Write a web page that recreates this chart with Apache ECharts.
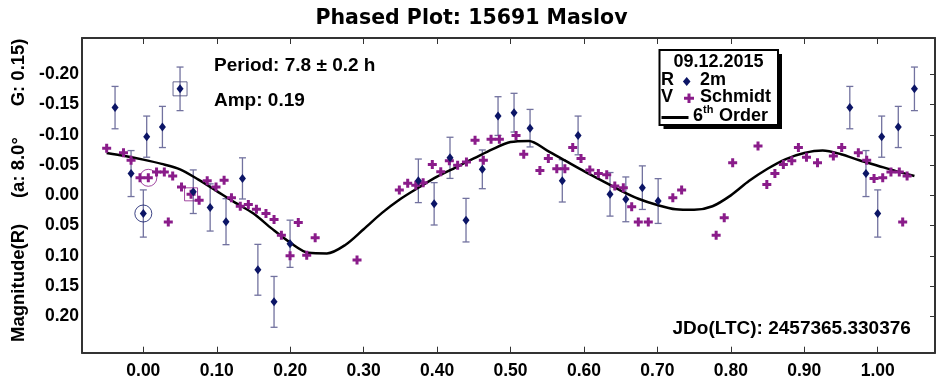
<!DOCTYPE html>
<html><head><meta charset="utf-8">
<script src="https://cdn.jsdelivr.net/npm/echarts@6/dist/echarts.min.js"></script>
<style>html,body{margin:0;padding:0;background:#fff}#c{width:936px;height:383px}</style>
</head><body><div id="c"></div>
<script>
// ---- tick labels ----
const xTicks = [0.00, 0.10, 0.20, 0.30, 0.40, 0.50, 0.60, 0.70, 0.80, 0.90, 1.00];
const yTicks = [-0.20, -0.15, -0.10, -0.05, 0.00, 0.05, 0.10, 0.15, 0.20];

// ---- R filter (2m): phase, magnitude, error ----
const rPhase = [-0.0385, -0.0167, 0.000, 0.0046, 0.026, 0.050, 0.068, 0.091, 0.1126, 0.135, 0.156, 0.178, 0.1998,
  0.3745, 0.396, 0.4176, 0.4394, 0.4616, 0.483, 0.5048, 0.5266, 0.5705, 0.592, 0.6355, 0.657, 0.6795, 0.701,
  0.962, 0.984, 1.000, 1.0054, 1.028, 1.050];
const rMag = [-0.145, -0.036, 0.030, -0.097, -0.113, -0.176, -0.006, 0.020, 0.0435, -0.028, 0.123, 0.176, 0.080,
  -0.024, 0.014, -0.062, 0.041, -0.043, -0.131, -0.1366, -0.111, -0.024, -0.099, -0.0017, 0.0066, -0.0127, 0.0094,
  -0.145, -0.036, 0.030, -0.097, -0.113, -0.176];
const rErr = [0.035, 0.038, 0.039, 0.034, 0.034, 0.036, 0.036, 0.039, 0.038, 0.034, 0.042, 0.042, 0.039,
  0.036, 0.035, 0.034, 0.036, 0.032, 0.032, 0.032, 0.031, 0.035, 0.032, 0.036, 0.037, 0.036, 0.037,
  0.035, 0.038, 0.039, 0.034, 0.034, 0.036];

// ---- V filter (Schmidt): phase, magnitude ----
const vPhase = [-0.0499, -0.027, -0.0167, -0.0045, 0.0068, 0.018, 0.0286, 0.034, 0.040, 0.052, 0.065, 0.076, 0.087,
  0.099, 0.110, 0.120, 0.132, 0.143, 0.154, 0.167, 0.178, 0.188, 0.1998, 0.211, 0.2225, 0.234, 0.291,
  0.3486, 0.360, 0.371, 0.381, 0.3935, 0.405, 0.4167, 0.428, 0.440, 0.4517, 0.463, 0.4735, 0.4848, 0.5075,
  0.518, 0.540, 0.5515, 0.563, 0.574, 0.5847, 0.596, 0.608, 0.6196, 0.631, 0.642, 0.6536, 0.665, 0.674,
  0.6876, 0.721, 0.733, 0.780, 0.791, 0.8025, 0.837, 0.849, 0.860, 0.8715, 0.883, 0.892, 0.903, 0.918,
  0.9396, 0.951, 0.9736, 0.985, 0.995, 1.0068, 1.018, 1.0294, 1.034, 1.040];
const vMag = [-0.078, -0.0705, -0.058, -0.029, -0.029, -0.0386, -0.0386, 0.044, -0.032, -0.0137, -0.0017, 0.008, -0.024,
  -0.014, -0.025, 0.004, 0.018, 0.015, 0.023, 0.030, 0.040, 0.066, 0.100, 0.045, 0.099, 0.070, 0.107,
  -0.009, -0.020, -0.0165, -0.021, -0.051, -0.039, -0.057, -0.0496, -0.055, -0.091, -0.058, -0.0926, -0.0926, -0.099,
  -0.068, -0.041, -0.061, -0.044, -0.044, -0.079, -0.061, -0.042, -0.036, -0.034, -0.0154, -0.0127, 0.019, 0.044,
  0.044, 0.004, -0.009, 0.066, 0.037, -0.054, -0.0815, -0.018, -0.036, -0.051, -0.057, -0.079, -0.063, -0.054,
  -0.065, -0.079, -0.0705, -0.058, -0.028, -0.029, -0.0386, -0.0386, 0.044, -0.032];

// ---- 6th order fit ----
const fitPhase = [-0.050, -0.025, 0.000, 0.025, 0.050, 0.075, 0.100, 0.125, 0.150, 0.175, 0.200, 0.225, 0.250,
  0.275, 0.300, 0.325, 0.350, 0.375, 0.400, 0.425, 0.450, 0.475, 0.500, 0.525, 0.550, 0.575, 0.600, 0.625,
  0.650, 0.675, 0.700, 0.725, 0.750, 0.775, 0.800, 0.825, 0.850, 0.875, 0.900, 0.925, 0.950, 0.975, 1.000,
  1.025, 1.050];
const fitMag = [-0.070, -0.065, -0.059, -0.052, -0.043, -0.026, -0.007, 0.012, 0.030, 0.055, 0.078, 0.095, 0.096,
  0.082, 0.056, 0.029, 0.006, -0.013, -0.031, -0.046, -0.061, -0.076, -0.088, -0.090, -0.074, -0.057, -0.040, -0.024,
  -0.008, 0.006, 0.016, 0.023, 0.024, 0.018, 0.000, -0.024, -0.044, -0.060, -0.070, -0.074, -0.068, -0.058, -0.049,
  -0.040, -0.032];

// ---- highlighted comparison points ----
const rCircled = [0.000, 0.030];
const vCircled = [0.0068, -0.029];
const rBoxed = [0.050, -0.176];
const vBoxed = [0.065, -0.0017];

const NAVY = '#0c1566', PURPLE = '#8a1c8a', ERR = '#72729f', AX = '#333';
const FONT = "'Liberation Sans', Arial, sans-serif";

const rData = rPhase.map((p, i) => [p, rMag[i], rErr[i]]);
const vData = vPhase.map((p, i) => [p, vMag[i]]);
const fitData = fitPhase.map((p, i) => [p, fitMag[i]]);

const XMIN = -0.0835, XMAX = 1.078, YMIN = -0.26, YMAX = 0.26;
const CROSS = 'path://M3,0H6V3H9V6H6V9H3V6H0V3H3Z';

const chart = echarts.init(document.getElementById('c'), null, {renderer: 'canvas'});
chart.setOption({
  animation: false,
  backgroundColor: '#fff',
  grid: {left: 82, right: 1, top: 38, bottom: 30.3},
  xAxis: [{
    type: 'value', min: XMIN, max: XMAX, position: 'bottom',
    axisLine: {show: true, onZero: false, lineStyle: {color: AX, width: 2}},
    axisTick: {show: true, inside: true, length: 6, customValues: xTicks, lineStyle: {color: AX, width: 1}},
    axisLabel: {customValues: xTicks, formatter: v => v.toFixed(2), color: '#000', fontFamily: FONT,
      fontWeight: 'bold', fontSize: 17.5, margin: 9},
    splitLine: {show: false}
  }, {
    type: 'value', min: XMIN, max: XMAX, position: 'top',
    axisLine: {show: true, onZero: false, lineStyle: {color: AX, width: 2}},
    axisTick: {show: true, inside: true, length: 6, customValues: xTicks, lineStyle: {color: AX, width: 1}},
    axisLabel: {show: false}, splitLine: {show: false}
  }],
  yAxis: [{
    type: 'value', min: YMIN, max: YMAX, inverse: true, position: 'left',
    name: '  Magnitude(R)     (a: 8.0°      G: 0.15)', nameLocation: 'middle', nameGap: 50,
    nameTextStyle: {color: '#000', fontFamily: FONT, fontWeight: 'bold', fontSize: 18.5},
    axisLine: {show: true, onZero: false, lineStyle: {color: AX, width: 2}},
    axisTick: {show: false},
    axisLabel: {customValues: yTicks, formatter: v => v.toFixed(2), color: '#000', fontFamily: FONT,
      fontWeight: 'bold', fontSize: 17.5, margin: 3},
    splitLine: {show: false}
  }, {
    type: 'value', min: YMIN, max: YMAX, inverse: true, position: 'right',
    axisLine: {show: true, onZero: false, lineStyle: {color: AX, width: 2}},
    axisTick: {show: true, inside: true, length: 5, customValues: yTicks, lineStyle: {color: AX, width: 1}},
    axisLabel: {show: false}, splitLine: {show: false}
  }],
  series: [
    {
      type: 'custom', name: 'err', data: rData, z: 1,
      renderItem: function (params, api) {
        const x = api.value(0), y = api.value(1), e = api.value(2);
        const a = api.coord([x, y - e]), b = api.coord([x, y + e]);
        const w = 3.5, st = {stroke: ERR, lineWidth: 1.3};
        return {type: 'group', children: [
          {type: 'line', shape: {x1: a[0], y1: a[1], x2: b[0], y2: b[1]}, style: st},
          {type: 'line', shape: {x1: a[0] - w, y1: a[1], x2: a[0] + w, y2: a[1]}, style: st},
          {type: 'line', shape: {x1: b[0] - w, y1: b[1], x2: b[0] + w, y2: b[1]}, style: st}
        ]};
      }
    },
    {
      type: 'line', name: '6th Order', data: fitData, smooth: 0.3, showSymbol: false, z: 2,
      lineStyle: {color: '#000', width: 2.5}
    },
    {
      type: 'scatter', name: 'Schmidt', data: vData, symbol: CROSS, symbolSize: 9, z: 3,
      itemStyle: {color: PURPLE, opacity: 1}
    },
    {
      type: 'scatter', name: '2m', data: rData.map(d => [d[0], d[1]]), symbol: 'diamond', symbolSize: [7, 9], z: 4,
      itemStyle: {color: NAVY, opacity: 1}
    },
    {
      type: 'scatter', data: [rCircled], symbol: 'circle', symbolSize: 17, z: 5,
      itemStyle: {color: 'transparent', borderColor: NAVY, borderWidth: 1}
    },
    {
      type: 'scatter', data: [vCircled], symbol: 'circle', symbolSize: 17, z: 5,
      itemStyle: {color: 'transparent', borderColor: PURPLE, borderWidth: 1}
    },
    {
      type: 'scatter', data: [rBoxed], symbol: 'rect', symbolSize: 14, z: 5,
      itemStyle: {color: 'transparent', borderColor: '#444477', borderWidth: 1}
    },
    {
      type: 'scatter', data: [vBoxed], symbol: 'rect', symbolSize: 13, z: 5,
      itemStyle: {color: 'transparent', borderColor: PURPLE, borderWidth: 1}
    }
  ],
  graphic: [
    {type: 'text', x: 471.5, y: 18.5, style: {text: 'Phased Plot: 15691 Maslov', fill: '#000',
      font: "bold 20.5px 'DejaVu Sans', sans-serif", align: 'center', verticalAlign: 'middle'}},
    {type: 'text', x: 214, y: 66, style: {text: 'Period: 7.8 ± 0.2 h', fill: '#000',
      font: 'bold 19px ' + FONT, align: 'left', verticalAlign: 'middle'}},
    {type: 'text', x: 214, y: 101, style: {text: 'Amp: 0.19', fill: '#000',
      font: 'bold 19px ' + FONT, align: 'left', verticalAlign: 'middle'}},
    {type: 'text', x: 672.5, y: 328.5, style: {text: 'JDo(LTC): 2457365.330376', fill: '#000',
      font: 'bold 19px ' + FONT, align: 'left', verticalAlign: 'middle'}},
    // legend box
    {type: 'rect', shape: {x: 663.5, y: 54, width: 118.5, height: 75}, style: {fill: '#000'}, z: 10},
    {type: 'rect', shape: {x: 659.5, y: 50, width: 118.5, height: 75}, style: {fill: '#fff', stroke: '#000', lineWidth: 2}, z: 11},
    {type: 'text', x: 718.5, y: 62, z: 12, style: {text: '09.12.2015', fill: '#000', font: 'bold 18px ' + FONT, align: 'center', verticalAlign: 'middle'}},
    {type: 'text', x: 661, y: 80.5, z: 12, style: {text: 'R', fill: '#000', font: 'bold 18px ' + FONT, align: 'left', verticalAlign: 'middle'}},
    {type: 'polygon', z: 12, shape: {points: [[686.7, 77], [690.5, 81.5], [686.7, 86], [682.9, 81.5]]}, style: {fill: NAVY}},
    {type: 'text', x: 700, y: 80.5, z: 12, style: {text: '2m', fill: '#000', font: 'bold 18px ' + FONT, align: 'left', verticalAlign: 'middle'}},
    {type: 'text', x: 661, y: 97, z: 12, style: {text: 'V', fill: '#000', font: 'bold 18px ' + FONT, align: 'left', verticalAlign: 'middle'}},
    {type: 'polygon', z: 12, shape: {points: [[687.5, 93.5], [690.5, 93.5], [690.5, 96.8], [694, 96.8], [694, 99.8], [690.5, 99.8], [690.5, 103], [687.5, 103], [687.5, 99.8], [684, 99.8], [684, 96.8], [687.5, 96.8]]}, style: {fill: PURPLE}},
    {type: 'text', x: 700, y: 97, z: 12, style: {text: 'Schmidt', fill: '#000', font: 'bold 18px ' + FONT, align: 'left', verticalAlign: 'middle'}},
    {type: 'line', z: 12, shape: {x1: 661.5, y1: 117.5, x2: 688.5, y2: 117.5}, style: {stroke: '#000', lineWidth: 3}},
    {type: 'text', x: 693, y: 116.5, z: 12, style: {text: '6', fill: '#000', font: 'bold 18px ' + FONT, align: 'left', verticalAlign: 'middle'}},
    {type: 'text', x: 703, y: 110, z: 12, style: {text: 'th', fill: '#000', font: 'bold 11px ' + FONT, align: 'left', verticalAlign: 'middle'}},
    {type: 'text', x: 719, y: 116.5, z: 12, style: {text: 'Order', fill: '#000', font: 'bold 18px ' + FONT, align: 'left', verticalAlign: 'middle'}}
  ]
});
</script></body></html>
